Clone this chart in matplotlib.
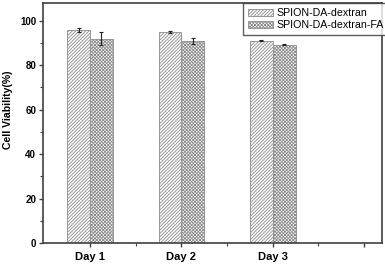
import matplotlib
matplotlib.use("Agg")
import matplotlib.pyplot as plt
import numpy as np

plt.rcParams['font.family'] = ['Liberation Sans', 'DejaVu Sans']
plt.rcParams['hatch.linewidth'] = 0.6
plt.rcParams['hatch.color'] = '#8a8a8a'

categories = ["Day 1", "Day 2", "Day 3"]
series_names = ["SPION-DA-dextran", "SPION-DA-dextran-FA"]
dextran = [95.8, 94.8, 90.9]
dextran_err = [0.8, 0.6, 0.3]
dextran_fa = [91.8, 90.8, 89.1]
dextran_fa_err = [3.0, 1.3, 0.3]

fig = plt.figure(figsize=(3.85, 2.66), dpi=100)
ax = fig.add_axes([43/385, 1-243.3/266, (382.3-43)/385, (243.3-2.7)/266])

x = np.arange(1, len(categories)+1)
w = 0.25
spine_c = '#404040'
ax.bar(x - w/2, dextran, w, color='white', edgecolor='#8a8a8a', hatch='//////////', linewidth=0.6,
       label=series_names[0], zorder=2)
ax.bar(x + w/2, dextran_fa, w, color='white', edgecolor='#8a8a8a', hatch='xxxxxxxxxx', linewidth=0.6,
       label=series_names[1], zorder=2)
ax.errorbar(x - w/2, dextran, yerr=dextran_err, fmt='none', ecolor='#222222', elinewidth=0.8,
            capsize=1.6, capthick=0.8, zorder=3)
ax.errorbar(x + w/2, dextran_fa, yerr=dextran_fa_err, fmt='none', ecolor='#222222', elinewidth=0.8,
            capsize=1.6, capthick=0.8, zorder=3)

ax.set_xlim(0.485, 4.2)
ax.set_ylim(0, 108)
ax.set_xticks([1, 2, 3, 4])
ax.set_xticklabels(categories + [""], fontsize=8, fontweight='bold')
ax.set_xticks([1.5, 2.5, 3.5], minor=True)
ax.set_yticks([0, 20, 40, 60, 80, 100])
ax.set_yticklabels(["0", "20", "40", "60", "80", "100"], fontsize=7, fontweight='bold')
ax.set_yticks([10, 30, 50, 70, 90], minor=True)
ax.tick_params(axis='both', which='major', direction='out', length=3, width=1, color=spine_c, pad=2)
ax.tick_params(axis='both', which='minor', direction='out', length=2, width=0.8, color=spine_c)
ax.tick_params(axis='x', which='major', pad=3)
for s in ax.spines.values():
    s.set_color(spine_c)
    s.set_linewidth(1.2)

ax.set_ylabel("Cell Viability(%)", fontsize=7.6, fontweight='bold')
ax.yaxis.set_label_coords(-0.0885, 0.554)

leg = ax.legend(loc='upper left', bbox_to_anchor=(242.7/385, 1-3.3/266), bbox_transform=fig.transFigure,
                fontsize=7.7, frameon=True, fancybox=False, borderaxespad=0, borderpad=0.45,
                handlelength=2.4, handleheight=0.7, handletextpad=0.3, labelspacing=0.2)
leg.get_frame().set_edgecolor('#333333')
leg.get_frame().set_linewidth(1.0)

fig.savefig("out.png", dpi=100)
